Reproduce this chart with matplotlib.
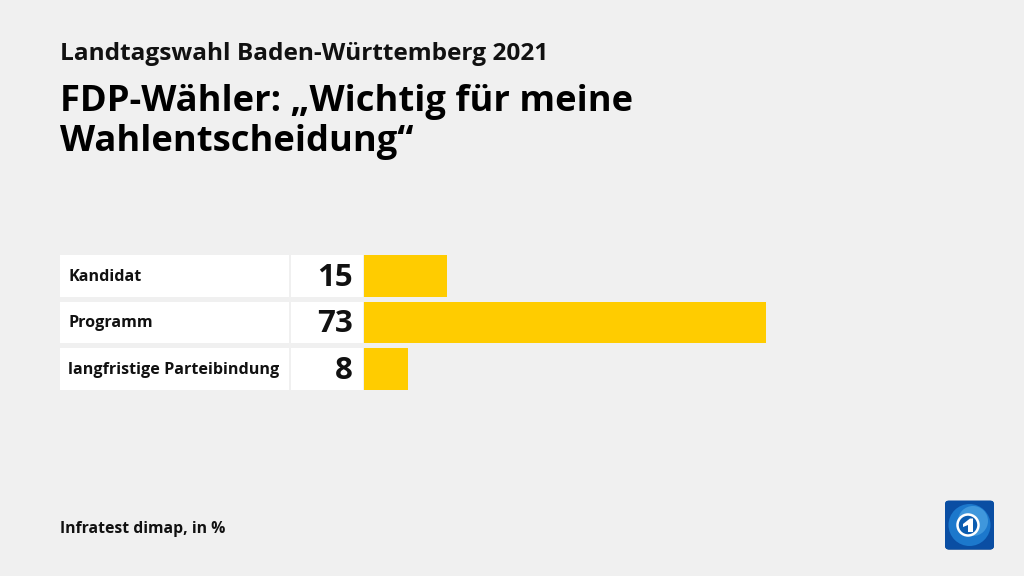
# Landtagswahl BW 2021: what mattered for FDP voters, as a horizontal bar chart.

import numpy as np
import matplotlib.pyplot as plt
from matplotlib.colors import LinearSegmentedColormap
from matplotlib.patches import Circle, FancyBboxPatch, Polygon

categories = ["Kandidat", "Programm", "langfristige Parteibindung"]
values = [15, 73, 8]

supertitle = "Landtagswahl Baden-Württemberg 2021"
title = "FDP-Wähler: „Wichtig für meine\nWahlentscheidung“"
source = "Infratest dimap, in %"

W, H = 1024, 576
background = "#f0f0f0"
bar_color = "#ffcc00"

plt.rcParams["font.family"] = ["Open Sans", "DejaVu Sans"]

fig = plt.figure(figsize=(W / 100, H / 100), dpi=100, facecolor=background)


# Axes placed in pixel positions, measured from the top left
def pixel_axes(left, top, right, bottom):
    ax = fig.add_axes([left / W, 1 - bottom / H, (right - left) / W, (bottom - top) / H])
    ax.axis("off")
    return ax


top, bottom = 252.75, 392.25
rows = np.arange(len(categories))
ylim = (len(categories) - 0.5, -0.5)
height = 0.903

# White box with the category name
label_ax = pixel_axes(60, top, 289, bottom)
label_ax.barh(rows, [1] * len(rows), height=height, color="white")
label_ax.set_xlim(0, 1)
label_ax.set_ylim(*ylim)
for row, name in zip(rows, categories):
    label_ax.text(0.037, row + 0.02, name, ha="left", va="center", fontsize=11.6,
                  fontweight="bold", color="#111111")

# White box with the number
value_ax = pixel_axes(291, top, 363, bottom)
value_ax.barh(rows, [1] * len(rows), height=height, color="white")
value_ax.set_xlim(0, 1)
value_ax.set_ylim(*ylim)
for row, value in zip(rows, values):
    value_ax.text(0.86, row + 0.04, str(value), ha="right", va="center", fontsize=22.5,
                  fontweight="bold", color="#111111")

# Yellow bars, 5.51 px per point
bar_ax = pixel_axes(364, top, 915, bottom)
bar_ax.barh(rows, values, height=height, color=bar_color)
bar_ax.set_xlim(0, 100)
bar_ax.set_ylim(*ylim)

# Headings and source line
fig.text(60 / W, 1 - 54 / H, supertitle, ha="left", va="center", fontsize=17.6,
         fontweight="bold", color="#111111")
fig.text(60 / W, 1 - 122 / H, title, ha="left", va="center", fontsize=26.2,
         fontweight="bold", color="#000000", linespacing=1.17)
fig.text(60 / W, 1 - 529 / H, source, ha="left", va="center", fontsize=11.3,
         fontweight="bold", color="#111111")

# Round blue logo in the bottom right corner
logo_ax = pixel_axes(944, 500, 995, 550)
box = FancyBboxPatch((1, 0.5), 49, 49, boxstyle="round,pad=0,rounding_size=4",
                     facecolor="#0a4ea3", edgecolor="none")
logo_ax.add_patch(box)
shade = np.linspace(0, 1, 50).reshape(-1, 1)
logo_cmap = LinearSegmentedColormap.from_list("logo", ["#0b62b8", "#06397f"])
gradient = logo_ax.imshow(shade, extent=(1, 50, 49.5, 0.5), cmap=logo_cmap, aspect="auto")
gradient.set_clip_path(box)
logo_ax.set_xlim(0, 51)
logo_ax.set_ylim(50, 0)
logo_ax.add_patch(Circle((25.5, 25), 21, facecolor="#1c78cc", edgecolor="none"))
logo_ax.add_patch(Circle((29, 21), 15, facecolor="#3f97dc", edgecolor="none"))
logo_ax.add_patch(Circle((24, 25), 10.5, facecolor="#0b5cb0", edgecolor="white", linewidth=1.8))
logo_ax.add_patch(Polygon([(19, 24), (26, 18.5), (29, 18.5), (29, 32), (24, 32), (24, 25), (19, 27)],
                          facecolor="white", edgecolor="none"))

fig.savefig("out.png", dpi=100, facecolor=background)
